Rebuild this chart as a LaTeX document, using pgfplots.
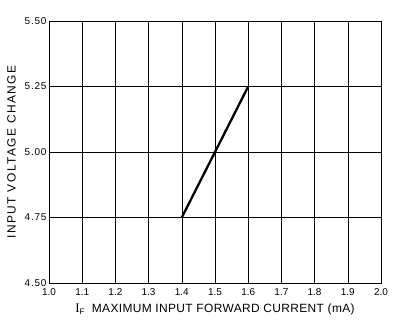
\documentclass[border=0pt]{standalone}
\usepackage{fontspec}
\setmainfont{Liberation Sans}
\newfontfamily\serifI{Liberation Serif}
\usepackage{pgfplots}
\pgfplotsset{compat=1.18}
\begin{document}
\begin{tikzpicture}
\begin{axis}[
  scale only axis,
  width=332bp, height=262bp,
  xmin=1.0, xmax=2.0, ymin=4.5, ymax=5.5,
  xtick={1.0,1.1,...,2.0},
  ytick={4.5,4.75,5.0,5.25,5.5},
  grid=major,
  major grid style={black, line width=0.6pt},
  axis line style={black, line width=0.9pt},
  tick style={draw=none},
  /pgf/number format/assume math mode=true,
  xticklabel style={font=\fontsize{10}{11}\selectfont, yshift=-2pt, /pgf/number format/.cd, fixed, fixed zerofill, precision=1},
  yticklabel style={font=\fontsize{10}{11}\selectfont\addfontfeature{LetterSpace=8}, xshift=1pt, /pgf/number format/.cd, fixed, fixed zerofill, precision=2},
  xlabel={{\serifI\fontsize{13}{14}\selectfont I}\raisebox{-0.35ex}{\fontsize{8}{9}\selectfont F}\ \ MAXIMUM INPUT FORWARD CURRENT (mA)},
  ylabel={INPUT VOLTAGE CHANGE},
  xlabel style={font=\fontsize{12}{13}\selectfont\addfontfeature{LetterSpace=3}, yshift=-1pt},
  ylabel style={font=\fontsize{12}{13}\selectfont\addfontfeature{LetterSpace=12}, yshift=2pt},
]
\addplot[black, line width=2.3pt] coordinates {(1.4,4.75) (1.6,5.25)};
\end{axis}
\path (current axis.south west) ++(-49bp,-41bp) coordinate (bbA);
\path (current axis.north east) ++(13bp,21bp) coordinate (bbB);
\path (bbA) rectangle (bbB);
\end{tikzpicture}
\end{document}
